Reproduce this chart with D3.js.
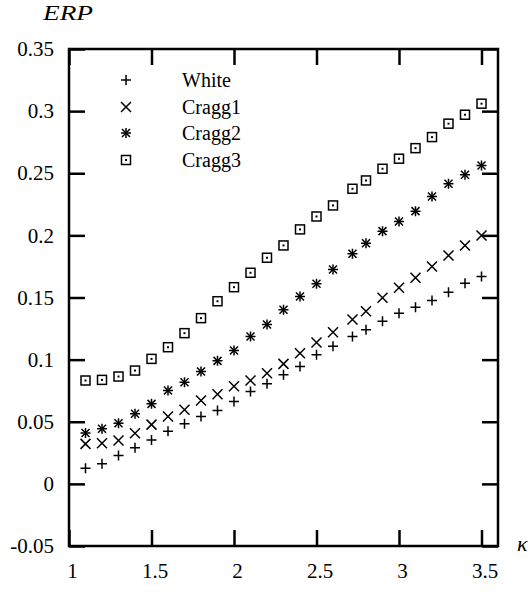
<!DOCTYPE html>
<html>
<head>
<meta charset="utf-8">
<script src="https://cdn.jsdelivr.net/npm/d3@7"></script>
<style>
  body { margin: 0; background: #fff; }
  svg text { font-family: "Liberation Serif", "Times New Roman", serif; fill: #000; }
</style>
</head>
<body>
<svg id="chart" width="531" height="592"></svg>
<script>
// kappa values (one point sits at e)
var kappa = [1.1, 1.2, 1.3, 1.4, 1.5, 1.6, 1.7, 1.8, 1.9, 2.0, 2.1, 2.2, 2.3, 2.4, 2.5, 2.6,
             2.718, 2.8, 2.9, 3.0, 3.1, 3.2, 3.3, 3.4, 3.5];
var white  = [0.0126, 0.0161, 0.0228, 0.029, 0.0354, 0.0424, 0.0483, 0.0542, 0.059, 0.0663,
              0.0743, 0.0805, 0.0878, 0.0944, 0.1039, 0.1108, 0.1186, 0.124, 0.1309, 0.1374,
              0.1422, 0.1476, 0.1543, 0.1615, 0.1669];
var cragg1 = [0.0322, 0.0327, 0.0349, 0.0408, 0.0477, 0.0542, 0.0596, 0.0671, 0.0722, 0.0786,
              0.0832, 0.089, 0.0966, 0.1052, 0.1138, 0.122, 0.1323, 0.139, 0.1498, 0.1578,
              0.1659, 0.175, 0.1838, 0.1919, 0.1999];
var cragg2 = [0.041, 0.0443, 0.0488, 0.0564, 0.0644, 0.0751, 0.0818, 0.0904, 0.099, 0.1073,
              0.1186, 0.1283, 0.1401, 0.1508, 0.161, 0.1725, 0.1852, 0.1937, 0.2034, 0.2112,
              0.2195, 0.2313, 0.2415, 0.2488, 0.2563];
var cragg3 = [0.0832, 0.0837, 0.0864, 0.0912, 0.1006, 0.110, 0.1213, 0.1334, 0.147, 0.1583,
              0.1699, 0.182, 0.1919, 0.2048, 0.2152, 0.2241, 0.2375, 0.2442, 0.2536, 0.2617,
              0.2702, 0.2791, 0.2899, 0.2971, 0.306];
var seriesNames = ["White", "Cragg1", "Cragg2", "Cragg3"];
var seriesMarks = ["plus", "cross", "star", "box"];
var xTicks = [1, 1.5, 2, 2.5, 3, 3.5];
var yTicks = [-0.05, 0, 0.05, 0.1, 0.15, 0.2, 0.25, 0.3, 0.35];

var plotL = 69, plotR = 498, plotT = 49, plotB = 546;
var svg = d3.select("#chart");

var x = d3.scaleLinear().domain([1, 3.6]).range([plotL, plotR]);
var y = d3.scaleLinear().domain([-0.05, 0.35]).range([plotB, plotT]);

// plain hyphen minus like the original
var plainFmt = function (d) { return String(d); };

// marker drawing
function drawMark(g, type, cx, cy) {
  var r = 5;
  if (type == "plus" || type == "star") {
    g.append("path").attr("d", "M" + (cx - r) + "," + cy + "H" + (cx + r) + "M" + cx + "," + (cy - r) + "V" + (cy + r));
  }
  if (type == "cross" || type == "star") {
    var s = type == "star" ? 4 : 5;
    g.append("path").attr("d", "M" + (cx - s) + "," + (cy - s) + "L" + (cx + s) + "," + (cy + s) +
                               "M" + (cx - s) + "," + (cy + s) + "L" + (cx + s) + "," + (cy - s));
  }
  if (type == "box") {
    g.append("rect").attr("x", cx - 4.5).attr("y", cy - 4.5).attr("width", 9).attr("height", 9).attr("fill", "none");
    g.append("rect").attr("x", cx - 1).attr("y", cy - 1).attr("width", 2).attr("height", 2)
      .attr("fill", "#000").attr("stroke", "none");
  }
}

// axes with inward ticks
function styleAxis(g) {
  g.select(".domain").remove();
  g.selectAll(".tick line").attr("stroke", "#000").attr("stroke-width", 2.5);
  g.selectAll(".tick text").attr("font-size", 21).attr("fill", "#000")
    .attr("font-family", "Liberation Serif");
}

svg.append("g").attr("transform", "translate(0," + plotB + ")")
  .call(d3.axisBottom(x).tickValues(xTicks).tickSize(-16).tickPadding(16).tickFormat(plainFmt))
  .call(styleAxis)
  .call(function (g) { g.selectAll(".tick text").attr("dx", 3).attr("dy", "0.75em"); });

svg.append("g").attr("transform", "translate(0," + plotT + ")")
  .call(d3.axisTop(x).tickValues(xTicks).tickSize(-16).tickFormat(""))
  .call(styleAxis);

svg.append("g").attr("transform", "translate(" + plotL + ",0)")
  .call(d3.axisLeft(y).tickValues(yTicks).tickSize(-16).tickPadding(15).tickFormat(plainFmt))
  .call(styleAxis);

svg.append("g").attr("transform", "translate(" + plotR + ",0)")
  .call(d3.axisRight(y).tickValues(yTicks).tickSize(-16).tickFormat(""))
  .call(styleAxis);

// frame
svg.append("rect").attr("x", plotL).attr("y", plotT).attr("width", plotR - plotL).attr("height", plotB - plotT)
  .attr("fill", "none").attr("stroke", "#000").attr("stroke-width", 2.5);

// axis titles
svg.append("text").attr("x", 43).attr("y", 20).attr("font-size", 21).attr("font-style", "italic")
  .attr("textLength", 50).attr("lengthAdjust", "spacingAndGlyphs").text("ERP");
svg.append("text").attr("x", 517).attr("y", 551).attr("font-size", 22).attr("font-style", "italic").text("κ");

// points
var allSeries = [white, cragg1, cragg2, cragg3];
allSeries.forEach(function (vals, i) {
  var g = svg.append("g").attr("stroke", "#000").attr("stroke-width", 1.5).attr("fill", "none");
  vals.forEach(function (v, j) { drawMark(g, seriesMarks[i], x(kappa[j]), y(v)); });
});

// legend
var legendY = [80, 107, 133, 160];
seriesNames.forEach(function (name, i) {
  var g = svg.append("g").attr("stroke", "#000").attr("stroke-width", 1.5).attr("fill", "none");
  drawMark(g, seriesMarks[i], 126, legendY[i]);
  svg.append("text").attr("x", 182).attr("y", legendY[i]).attr("dy", "0.35em")
    .attr("font-size", 20).text(name);
});
</script>
</body>
</html>
